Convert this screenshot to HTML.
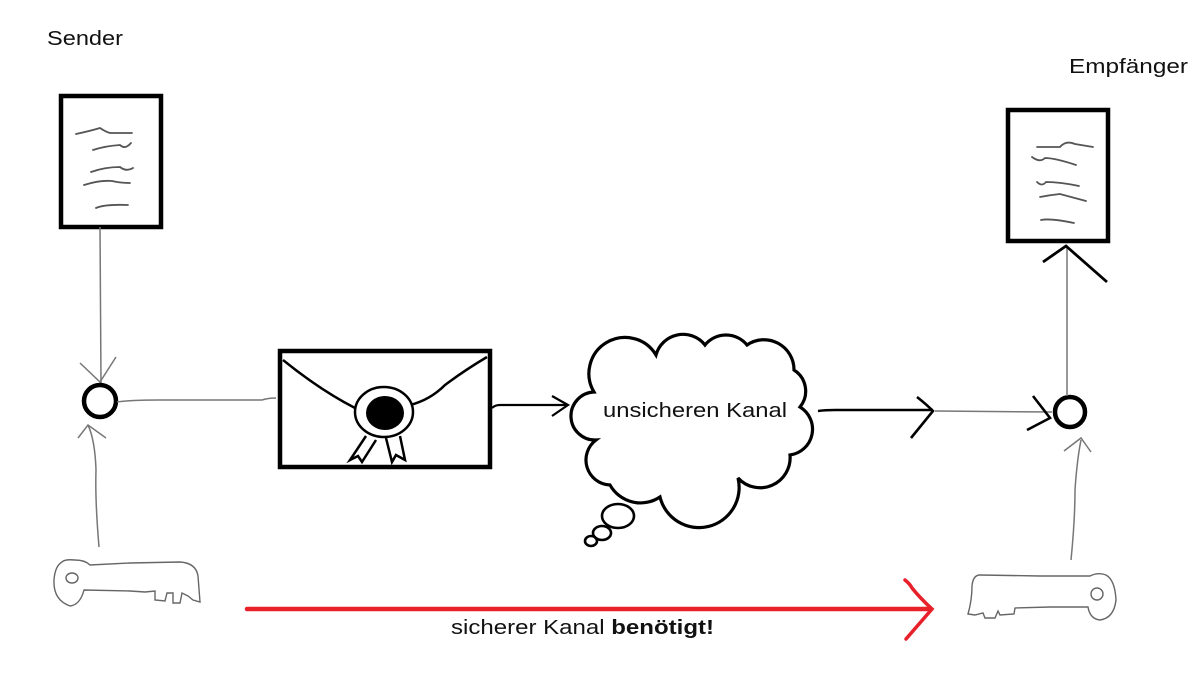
<!DOCTYPE html>
<html><head><meta charset="utf-8"><style>
html,body{margin:0;padding:0;background:#fff;}
svg{display:block;}
text{font-family:"Liberation Sans",sans-serif;fill:#111;}
</style></head><body>
<svg width="1200" height="675" viewBox="0 0 1200 675" xmlns="http://www.w3.org/2000/svg">
<rect width="1200" height="675" fill="#fff"/>
<!-- labels -->
<text x="47" y="45" font-size="20" textLength="76" lengthAdjust="spacingAndGlyphs">Sender</text>
<text x="1069" y="73" font-size="20" textLength="119" lengthAdjust="spacingAndGlyphs">Empfänger</text>

<!-- sender doc -->
<rect x="61" y="96" width="100" height="131" fill="none" stroke="#000" stroke-width="4.5"/>
<g fill="none" stroke="#555" stroke-width="1.8" stroke-linecap="round">
<path d="M76 134 Q90 131 100 128 Q106 132 110 133 L132 133"/>
<path d="M93 150 Q105 146 120 145 Q125 150 131 143"/>
<path d="M91 172 Q105 167 120 167 Q126 172 133 168"/>
<path d="M84 185 Q100 180 112 181 Q120 183 130 183"/>
<path d="M96 208 Q105 204 128 205"/>
</g>
<!-- receiver doc -->
<rect x="1008" y="110" width="100" height="131" fill="none" stroke="#000" stroke-width="4.5"/>
<g fill="none" stroke="#555" stroke-width="1.8" stroke-linecap="round">
<path d="M1037 147 L1060 147 Q1066 140 1075 144 L1093 147"/>
<path d="M1032 157 Q1040 163 1045 158 Q1055 158 1076 165"/>
<path d="M1037 182 Q1042 187 1046 182 Q1060 182 1079 186"/>
<path d="M1040 197 Q1050 195 1060 194 Q1075 198 1086 201"/>
<path d="M1041 220 Q1050 218 1074 223"/>
</g>

<!-- sender vertical & circle -->
<line x1="100" y1="227" x2="101" y2="384" stroke="#777" stroke-width="1.5"/>
<path d="M80 363 L100 382 L116 357" fill="none" stroke="#777" stroke-width="1.5"/>
<circle cx="100" cy="401" r="16" fill="none" stroke="#000" stroke-width="4.5"/>
<path d="M117 402 Q130 400 160 400 L262 400 Q268 398 276 398" fill="none" stroke="#777" stroke-width="1.5"/>
<!-- sender key arrow -->
<path d="M99 547 Q95 500 96 470 Q95 440 88 425" fill="none" stroke="#777" stroke-width="1.5"/>
<path d="M78 438 L88 425 L106 438" fill="none" stroke="#777" stroke-width="1.5"/>

<!-- envelope -->
<rect x="280" y="351" width="210" height="116" fill="none" stroke="#000" stroke-width="4.5"/>
<path d="M283 360 Q320 390 355 408" fill="none" stroke="#000" stroke-width="2.5"/>
<path d="M410 405 Q430 400 445 385 Q465 370 487 357" fill="none" stroke="#000" stroke-width="2.5"/>
<ellipse cx="384" cy="412" rx="29" ry="25" fill="#fff" stroke="#000" stroke-width="2.5"/>
<ellipse cx="385" cy="413" rx="19" ry="17" fill="#000"/>
<path d="M366 436 L350 460 L358 456 L362 462 L376 440" fill="none" stroke="#000" stroke-width="2.5"/>
<path d="M386 438 L392 462 L396 455 L405 460 L400 436" fill="none" stroke="#000" stroke-width="2.5"/>
<!-- envelope to cloud -->
<path d="M492 408 Q495 405 500 405 L568 405" fill="none" stroke="#000" stroke-width="2.2"/>
<path d="M552 396 L568 405 L552 416" fill="none" stroke="#000" stroke-width="2.2"/>

<!-- cloud -->
<path d="M596 440 A22 22 0 0 1 594 392 A30 30 0 0 1 656 355 A28 28 0 0 1 705 345 A27 27 0 0 1 747 345 A30 30 0 0 1 794 370 A25 25 0 0 1 800 407 A26 26 0 0 1 790 455 A30 30 0 0 1 738 478 A40 40 0 0 1 660 497 A35 35 0 0 1 610 485 A25 25 0 0 1 596 440 Z" fill="#fff" stroke="#000" stroke-width="3.2"/>
<ellipse cx="618" cy="516" rx="16" ry="12" fill="none" stroke="#000" stroke-width="2.6"/>
<ellipse cx="602" cy="533" rx="9" ry="7" fill="none" stroke="#000" stroke-width="2.6"/>
<ellipse cx="591" cy="541" rx="6" ry="5" fill="none" stroke="#000" stroke-width="2.6"/>
<text x="603" y="417" font-size="20" textLength="184" lengthAdjust="spacingAndGlyphs">unsicheren Kanal</text>

<!-- cloud to receiver -->
<path d="M818 411 Q825 410 835 410 L933 410" fill="none" stroke="#000" stroke-width="2.4"/>
<path d="M917 397 Q926 404 933 411 L911 438" fill="none" stroke="#000" stroke-width="2.6"/>
<line x1="935" y1="411" x2="1052" y2="412" stroke="#777" stroke-width="1.5"/>
<path d="M1033 396 L1050 418 L1027 430" fill="none" stroke="#000" stroke-width="2.6"/>
<circle cx="1070" cy="412" r="15" fill="none" stroke="#000" stroke-width="4.5"/>
<line x1="1067" y1="396" x2="1067" y2="246" stroke="#777" stroke-width="1.5"/>
<path d="M1043 262 L1066 246 L1107 282" fill="none" stroke="#000" stroke-width="2.8"/>
<!-- receiver key arrow -->
<path d="M1071 560 Q1075 520 1075 490 Q1077 460 1081 440" fill="none" stroke="#777" stroke-width="1.5"/>
<path d="M1064 451 L1081 438 L1091 452" fill="none" stroke="#777" stroke-width="1.5"/>

<!-- left key -->
<path d="M62 562 Q55 566 54 580 Q53 600 70 606 Q80 605 84 590 L130 591 L145 592 L155 591 L155 600 L165 601 L167 593 L173 593 L173 603 L180 603 L182 593 L188 596 L193 600 L200 602 L198 576 Q196 563 180 562 L130 563 L90 565 Q85 560 75 560 Q65 559 62 562 Z" fill="none" stroke="#666" stroke-width="1.4"/>
<ellipse cx="72" cy="578" rx="6" ry="5" fill="none" stroke="#666" stroke-width="1.4"/>
<!-- right key -->
<path d="M1106 575 Q1115 580 1116 600 Q1114 618 1100 620 Q1090 619 1088 607 L1050 607 L1015 608 L1014 614 L1000 615 L998 611 L995 618 L985 618 L983 613 L975 615 L968 614 Q972 600 972 586 Q973 575 980 575 L1040 576 L1090 576 Q1098 572 1106 575 Z" fill="none" stroke="#666" stroke-width="1.4"/>
<ellipse cx="1097" cy="594" rx="6" ry="6" fill="none" stroke="#666" stroke-width="1.4"/>

<!-- red channel -->
<line x1="247" y1="609" x2="931" y2="609" stroke="#e8202a" stroke-width="4.5" stroke-linecap="round"/>
<path d="M905 580 Q910 584 912 588 Q920 598 932 609 L906 639" fill="none" stroke="#e8202a" stroke-width="3.5" stroke-linecap="round"/>
<text x="451" y="634" font-size="20" textLength="263" lengthAdjust="spacingAndGlyphs">sicherer Kanal <tspan font-weight="bold">benötigt!</tspan></text>
</svg>
</body></html>
